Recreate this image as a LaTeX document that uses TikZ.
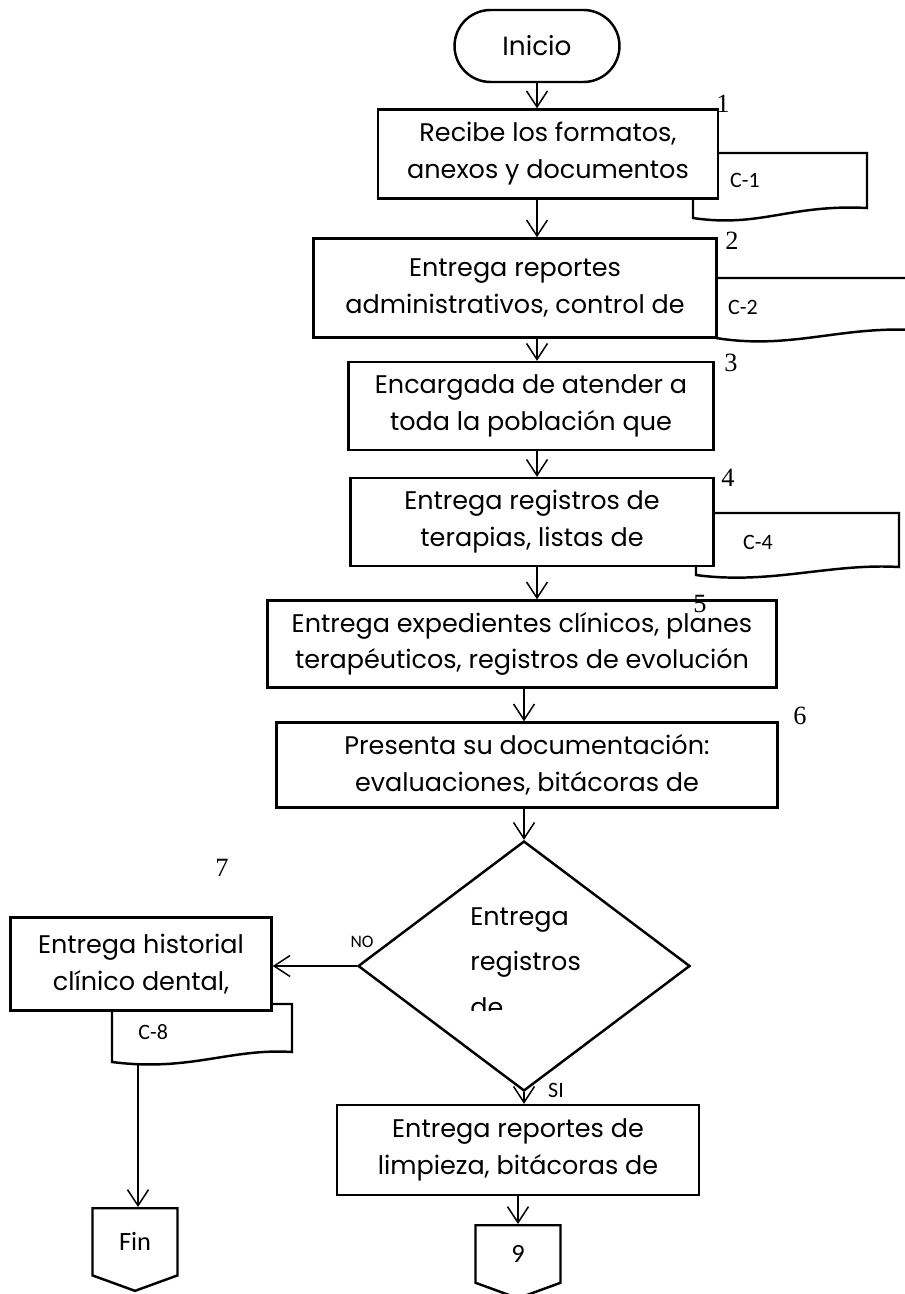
\documentclass[tikz,border=0pt]{standalone}
\usepackage{fontspec}
\usepackage{tikz}
\usetikzlibrary{
  arrows.meta, shapes.geometric, shapes.misc, shapes.symbols,
  positioning, calc
}
\newfontfamily\gothic{Poppins}
\newfontfamily\calibri{Carlito}
\newfontfamily\cifra{Liberation Serif}
\tikzset{
  proceso/.style={
    rectangle, draw=black, line width=1.4pt, fill=white,
    inner sep=0pt, align=center,
    font=\gothic\fontsize{14.5}{21}\selectfont
  },
  terminal/.style={
    rounded rectangle, draw=black, line width=1.4pt, fill=white,
    minimum width=3.3cm, minimum height=1.44cm, inner sep=0pt,
    font=\gothic\fontsize{15}{18}\selectfont
  },
  decision/.style={
    diamond, draw=black, line width=1.4pt, fill=white,
    minimum width=6.64cm, minimum height=5.0cm, inner sep=0pt
  },
  conector/.style={
    signal, signal to=south, signal from=nowhere, signal pointer angle=140,
    draw=black, line width=1.4pt, fill=white, inner sep=0pt,
    font=\calibri\fontsize{15}{18}\selectfont
  },
  documento/.style={draw=black, line width=1.4pt, fill=white},
  etiqueta/.style={font=\calibri\fontsize{12.5}{15}\selectfont, inner sep=0pt},
  numero/.style={font=\cifra\fontsize{15}{18}\selectfont, inner sep=0pt},
  flecha/.style={-{Straight Barb[length=0.32cm, width=0.42cm, line width=0.85pt]}, line width=0.85pt, draw=black}
}
\begin{document}
\begin{tikzpicture}[x=0.02cm, y=-0.02cm]
\useasboundingbox (0,0) rectangle (905,1294);

% documentos (detras de las cajas)
\draw[documento] (693,153) -- (867,153) -- (867,208) .. controls (790,204) and (760,228) .. (693,218) -- cycle;
\draw[documento] (716,278) -- (915,278) -- (915,330) .. controls (840,326) and (790,350) .. (716,338) -- cycle;
\draw[documento] (696,513) -- (899,513) -- (899,567) .. controls (830,563) and (770,585) .. (696,575) -- cycle;
\draw[documento] (112,1004) -- (292,1004) -- (292,1052) .. controls (230,1048) and (190,1072) .. (112,1062) -- cycle;

\node[terminal] (inicio) at (537,46) {Inicio};
\node[proceso, minimum width=6.8cm, minimum height=1.78cm] (b1) at (548,154) {Recibe los formatos,\\anexos y documentos};
\node[proceso, minimum width=8.06cm, minimum height=1.98cm] (b2) at (515,288) {Entrega reportes\\administrativos, control de};
\node[proceso, minimum width=7.3cm, minimum height=1.76cm] (b3) at (531,406) {Encargada de atender a\\toda la población que};
\node[proceso, minimum width=7.26cm, minimum height=1.76cm] (b4) at (532,522) {Entrega registros de\\terapias, listas de};
\node[proceso, minimum width=10.18cm, minimum height=1.74cm] (b5) at (522,644) {Entrega expedientes clínicos, planes\\terapéuticos, registros de evolución};
\node[proceso, minimum width=10.02cm, minimum height=1.7cm] (b6) at (527,765) {Presenta su documentación:\\evaluaciones, bitácoras de};
\node[decision] (dec) at (524,966) {};
\node[proceso, minimum width=5.22cm, minimum height=1.86cm] (b7) at (141,964) {Entrega historial\\clínico dental,};
\node[proceso, minimum width=7.24cm, minimum height=1.8cm] (b9) at (518,1150) {Entrega reportes de\\limpieza, bitácoras de};
\node[conector, minimum width=1.7cm, minimum height=1.46cm, anchor=north] (fin) at (135,1207) {Fin};
\node[conector, minimum width=1.7cm, minimum height=1.2cm, anchor=north] (nueve) at (518,1224) {9};

% texto del rombo, cortado abajo
\begin{scope}
  \clip (440,880) rectangle (620,1010);
  \node[align=left, inner sep=0pt, anchor=west, font=\gothic\fontsize{14.5}{26}\selectfont] (dectxt) at (470,962) {Entrega\\registros\\de};
\end{scope}

\node[etiqueta] (c1) at (745,180) {C-1};
\node[etiqueta] (c2) at (743,307) {C-2};
\node[etiqueta] (c4) at (758,542) {C-4};
\node[etiqueta, anchor=west] (c8) at (138,1032) {C-8};
\coordinate (c8b) at (138,1064);

\node[numero] (n1) at (723,104) {1};
\node[numero] (n2) at (732,241) {2};
\node[numero] (n3) at (731,363) {3};
\node[numero] (n4) at (728,478) {4};
\node[numero] (n5) at (700,604) {5};
\node[numero] (n6) at (800,716) {6};
\node[numero] (n7) at (222,868) {7};

\node[etiqueta, font=\calibri\fontsize{10}{12}\selectfont] (no) at (362,942) {NO};
\node[etiqueta] (si) at (556,1090) {SI};

\draw[flecha] (inicio.south) -- (inicio.south |- b1.north);
\draw[flecha] (inicio.south |- b1.south) -- (inicio.south |- b2.north);
\draw[flecha] (inicio.south |- b2.south) -- (inicio.south |- b3.north);
\draw[flecha] (inicio.south |- b3.south) -- (inicio.south |- b4.north);
\draw[flecha] (inicio.south |- b4.south) -- (inicio.south |- b5.north);
\draw[flecha] (b5.south -| dec.north) -- (dec.north |- b6.north);
\draw[flecha] (b6.south -| dec.north) -- (dec.north);
\draw[flecha] (dec.west) -- (dec.west -| b7.east);
\draw[flecha] (dec.south) -- (dec.south |- b9.north);
\draw[flecha] (b9.south -| nueve.north) -- (nueve.north);
\draw[flecha] (c8b) -- (c8b |- fin.north);

\end{tikzpicture}
\end{document}
